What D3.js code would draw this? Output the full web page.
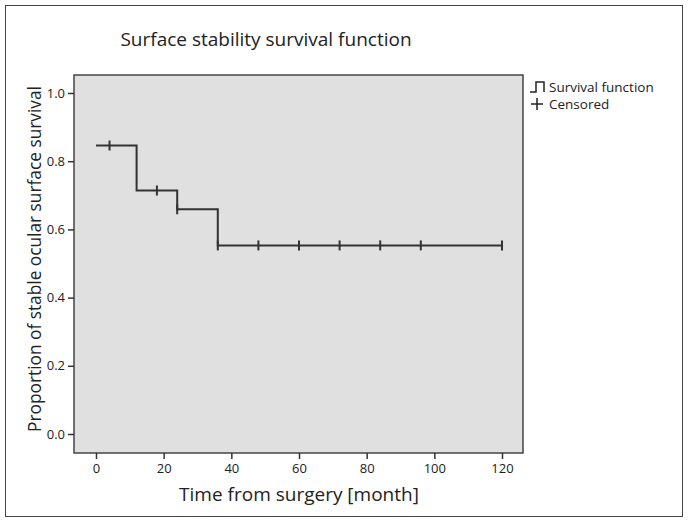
<!DOCTYPE html>
<html>
<head>
<meta charset="utf-8">
<script src="https://cdn.jsdelivr.net/npm/d3@7"></script>
<style>
  body { margin: 0; background: #fff; }
  text { font-family: "Open Sans", "Noto Sans", sans-serif; fill: #222; }
</style>
</head>
<body>
<svg id="chart" width="688" height="522"></svg>
<script>
"use strict";

// Kaplan-Meier steps: time where the level starts, survival level
const stepTimes = [0, 12, 24, 36];
const stepLevels = [0.846, 0.714, 0.659, 0.553];
const endTime = 120;

// Censored observations (time, survival)
const censorTimes = [4, 18, 24, 36, 48, 60, 72, 84, 96, 120];
const censorLevels = [0.846, 0.714, 0.659, 0.553, 0.553, 0.553, 0.553, 0.553, 0.553, 0.553];

const xTicks = [0, 20, 40, 60, 80, 100, 120];
const yTicks = [0.0, 0.2, 0.4, 0.6, 0.8, 1.0];

const svg = d3.select("#chart");

// outer frame
svg.append("rect")
    .attr("x", 5.5).attr("y", 5.5)
    .attr("width", 677).attr("height", 511)
    .attr("fill", "none").attr("stroke", "#444").attr("stroke-width", 1);

const panel = {left: 74, top: 75, right: 523, bottom: 453};

const x = d3.scaleLinear().domain([0, 120]).range([96, 502]);
const y = d3.scaleLinear().domain([0, 1]).range([434, 93]);

svg.append("rect")
    .attr("x", panel.left).attr("y", panel.top)
    .attr("width", panel.right - panel.left)
    .attr("height", panel.bottom - panel.top)
    .attr("fill", "#e0e0e0")
    .attr("stroke", "#444").attr("stroke-width", 1.5);

// axes
const xAxis = svg.append("g")
    .attr("transform", `translate(0,${panel.bottom})`)
    .call(d3.axisBottom(x).tickValues(xTicks).tickSize(6).tickPadding(5).tickFormat(d3.format("d")));
const yAxis = svg.append("g")
    .attr("transform", `translate(${panel.left},0)`)
    .call(d3.axisLeft(y).tickValues(yTicks).tickSize(6).tickPadding(3).tickFormat(d3.format(".1f")));

[xAxis, yAxis].forEach(g => {
    g.select(".domain").remove();
    g.selectAll(".tick line").attr("stroke", "#333").attr("stroke-width", 1.5);
    g.selectAll(".tick text")
        .attr("font-size", 13)
        .attr("fill", "#333")
        .style("font-family", "'Open Sans', sans-serif");
});

// survival step line
const pts = stepTimes.map((t, i) => [t, stepLevels[i]]);
pts.push([endTime, stepLevels[stepLevels.length - 1]]);
svg.append("path")
    .datum(pts)
    .attr("fill", "none")
    .attr("stroke", "#333")
    .attr("stroke-width", 2)
    .attr("d", d3.line().x(d => x(d[0])).y(d => y(d[1])).curve(d3.curveStepAfter));

// censor marks
svg.append("g").selectAll("line")
    .data(censorTimes)
    .join("line")
    .attr("x1", d => x(d)).attr("x2", d => x(d))
    .attr("y1", (d, i) => y(censorLevels[i]) - 5)
    .attr("y2", (d, i) => y(censorLevels[i]) + 5)
    .attr("stroke", "#333").attr("stroke-width", 2);

// titles
svg.append("text")
    .attr("x", 266).attr("y", 46)
    .attr("text-anchor", "middle")
    .attr("font-size", 19)
    .text("Surface stability survival function");

svg.append("text")
    .attr("x", 299).attr("y", 501)
    .attr("text-anchor", "middle")
    .attr("font-size", 19)
    .text("Time from surgery [month]");

svg.append("text")
    .attr("transform", "translate(41,259) rotate(-90)")
    .attr("text-anchor", "middle")
    .attr("font-size", 17.3)
    .text("Proportion of stable ocular surface survival");

// legend
const lg = svg.append("g").attr("transform", "translate(530,0)");
lg.append("path")
    .attr("d", "M0,92 H6 V82 H14 V92")
    .attr("fill", "none").attr("stroke", "#222").attr("stroke-width", 1.5);
lg.append("text").attr("x", 19).attr("y", 92).attr("font-size", 13.5).text("Survival function");
lg.append("path")
    .attr("d", "M1,104 H13 M7,98 V110")
    .attr("fill", "none").attr("stroke", "#222").attr("stroke-width", 1.5);
lg.append("text").attr("x", 19).attr("y", 109).attr("font-size", 13.5).text("Censored");
</script>
</body>
</html>
